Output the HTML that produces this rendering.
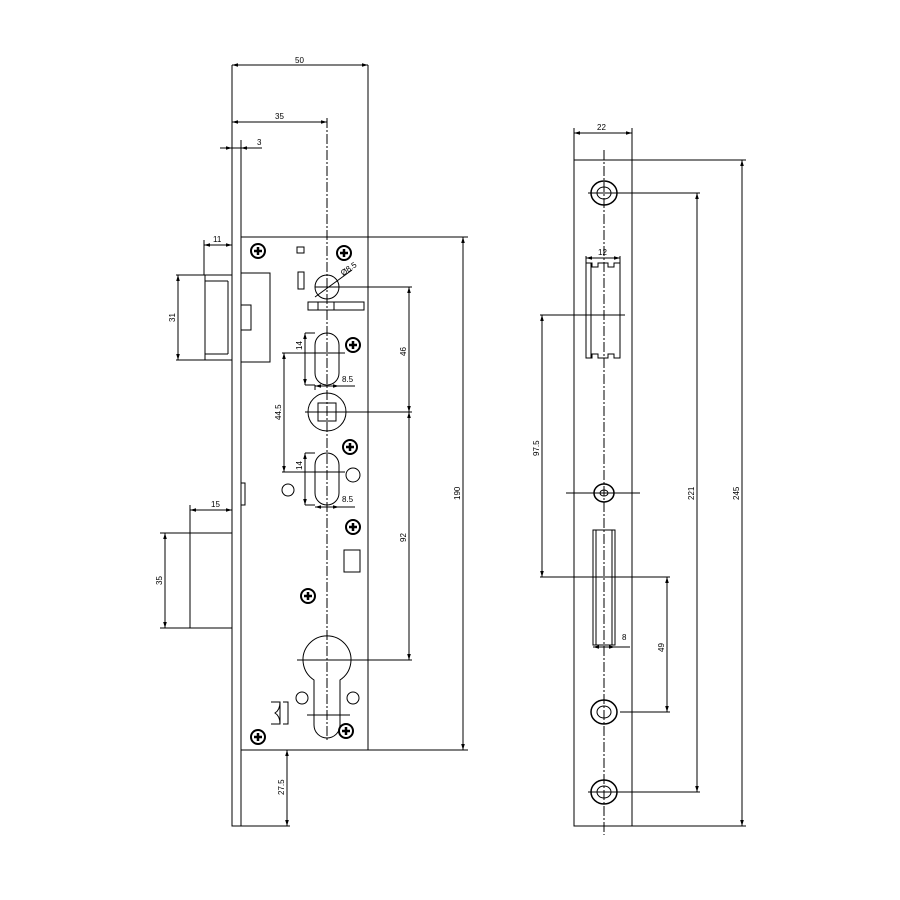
<!DOCTYPE html>
<html><head><style>body{margin:0;background:#fff}svg{display:block}text{font-family:"Liberation Sans",sans-serif;font-size:8px;fill:#000}</style></head>
<body>
<svg width="900" height="900" viewBox="0 0 900 900" xmlns="http://www.w3.org/2000/svg">
<defs>
<marker id="a" viewBox="0 0 10 10" refX="10" refY="5" markerWidth="6" markerHeight="6" orient="auto-start-reverse"><path d="M0,2L10,5L0,8z" fill="#000"/></marker>
<g id="scr"><circle r="7" fill="none" stroke="#000" stroke-width="2"/><path d="M-4,0H4M0,-4V4" stroke="#000" stroke-width="2.5"/></g>
</defs>
<g fill="none" stroke="#000" stroke-width="1">
<!-- faceplate -->
<rect x="232" y="148" width="9" height="678"/>
<!-- case -->
<rect x="241" y="237" width="127" height="513"/>
<line x1="368" y1="65" x2="368" y2="237"/>
<line x1="232" y1="65" x2="232" y2="148"/>
<line x1="368" y1="237" x2="468" y2="237"/><line x1="368" y1="750" x2="468" y2="750"/>
<line x1="327" y1="118" x2="327" y2="740" stroke-dasharray="10,2,2,2"/>
<!-- dims top -->
<line x1="232" y1="65" x2="368" y2="65" marker-start="url(#a)" marker-end="url(#a)"/>
<line x1="232" y1="122" x2="327" y2="122" marker-start="url(#a)" marker-end="url(#a)"/>
<line x1="220" y1="148" x2="232" y2="148" marker-end="url(#a)"/><line x1="262" y1="148" x2="241" y2="148" marker-end="url(#a)"/>
<line x1="241" y1="140" x2="241" y2="160"/>
<!-- latch -->
<rect x="205" y="275" width="27" height="85"/><line x1="176" y1="275" x2="205" y2="275"/><line x1="176" y1="360" x2="205" y2="360"/>
<line x1="205" y1="281" x2="228" y2="281"/><line x1="205" y1="354" x2="228" y2="354"/><line x1="228" y1="281" x2="228" y2="354"/>
<rect x="241" y="273" width="29" height="89"/><rect x="241" y="305" width="10" height="25"/>
<line x1="178" y1="275" x2="178" y2="360" marker-start="url(#a)" marker-end="url(#a)"/>
<line x1="204" y1="240" x2="204" y2="275"/>
<line x1="204" y1="245" x2="232" y2="245" marker-start="url(#a)" marker-end="url(#a)"/>
<!-- deadbolt -->
<rect x="190" y="533" width="42" height="95"/>
<line x1="160" y1="533" x2="190" y2="533"/><line x1="160" y1="628" x2="190" y2="628"/>
<line x1="165" y1="533" x2="165" y2="628" marker-start="url(#a)" marker-end="url(#a)"/>
<line x1="190" y1="505" x2="190" y2="533"/>
<line x1="190" y1="510" x2="232" y2="510" marker-start="url(#a)" marker-end="url(#a)"/>
<path d="M241,483h4v22h-4"/>
<!-- 27.5 -->
<line x1="287" y1="750" x2="287" y2="826" marker-start="url(#a)" marker-end="url(#a)"/>
<line x1="241" y1="826" x2="290" y2="826"/>
<!-- small parts -->
<rect x="297" y="247" width="7" height="6"/><rect x="298" y="272" width="6" height="17"/>
<circle cx="327" cy="287" r="12"/><line x1="315" y1="297" x2="352" y2="270"/>
<rect x="308" y="302" width="56" height="8"/><line x1="318" y1="302" x2="318" y2="310"/><line x1="334" y1="302" x2="334" y2="310"/>
<line x1="315" y1="287" x2="412" y2="287"/>
<rect x="315" y="333" width="24" height="52" rx="12"/>
<rect x="315" y="453" width="24" height="52" rx="12"/>
<circle cx="327" cy="412" r="19"/><rect x="318" y="403" width="18" height="18"/>
<line x1="305" y1="412" x2="412" y2="412"/>
<circle cx="353" cy="475" r="7"/><circle cx="288" cy="490" r="6"/>
<rect x="344" y="550" width="16" height="22"/>
<path d="M314,680 A24,24 0 1 1 340,680 L340,725 A13,13 0 0 1 314,725 Z"/>
<line x1="297" y1="660" x2="412" y2="660"/><line x1="307" y1="715" x2="350" y2="715"/>
<circle cx="302" cy="698" r="6"/><circle cx="353" cy="698" r="6"/>
<path d="M271,702h9v22h-9 M280,702 q0,8 -5,11 q5,3 5,11 M280,702 q-6,0 -6,0"/>
<path d="M283,702h5v22h-5"/>
<!-- left dims -->
<line x1="409" y1="287" x2="409" y2="412" marker-start="url(#a)" marker-end="url(#a)"/>
<line x1="409" y1="412" x2="409" y2="660" marker-start="url(#a)" marker-end="url(#a)"/>
<line x1="463" y1="237" x2="463" y2="750" marker-start="url(#a)" marker-end="url(#a)"/>
<line x1="282" y1="353" x2="345" y2="353"/><line x1="282" y1="472" x2="345" y2="472"/>
<line x1="284" y1="353" x2="284" y2="472" marker-start="url(#a)" marker-end="url(#a)"/>
<line x1="305" y1="333" x2="315" y2="333"/><line x1="305" y1="385" x2="315" y2="385"/>
<line x1="305" y1="333" x2="305" y2="385" marker-start="url(#a)" marker-end="url(#a)"/>
<line x1="305" y1="453" x2="315" y2="453"/><line x1="305" y1="505" x2="315" y2="505"/>
<line x1="305" y1="453" x2="305" y2="505" marker-start="url(#a)" marker-end="url(#a)"/>
<line x1="315" y1="385" x2="315" y2="390"/><line x1="315" y1="386" x2="339" y2="386" marker-start="url(#a)" marker-end="url(#a)"/><line x1="339" y1="386" x2="355" y2="386"/>
<line x1="315" y1="507" x2="339" y2="507" marker-start="url(#a)" marker-end="url(#a)"/><line x1="339" y1="507" x2="355" y2="507"/>
<!-- strike plate -->
<rect x="574" y="160" width="58" height="666"/>
<line x1="604" y1="150" x2="604" y2="835" stroke-dasharray="10,2,2,2"/>
<line x1="632" y1="160" x2="746" y2="160"/><line x1="632" y1="826" x2="746" y2="826"/>
<line x1="574" y1="128" x2="574" y2="160"/><line x1="632" y1="128" x2="632" y2="160"/>
<line x1="574" y1="133" x2="632" y2="133" marker-start="url(#a)" marker-end="url(#a)"/>
<line x1="742" y1="160" x2="742" y2="826" marker-start="url(#a)" marker-end="url(#a)"/>
<line x1="588" y1="193" x2="700" y2="193"/><line x1="588" y1="792" x2="700" y2="792"/>
<line x1="697" y1="193" x2="697" y2="792" marker-start="url(#a)" marker-end="url(#a)"/>
<ellipse cx="604" cy="193" rx="13" ry="12" stroke-width="1.5"/><ellipse cx="604" cy="193" rx="7" ry="6"/>
<ellipse cx="604" cy="712" rx="13" ry="12" stroke-width="1.5"/><ellipse cx="604" cy="712" rx="7" ry="6"/>
<ellipse cx="604" cy="792" rx="13" ry="12" stroke-width="1.5"/><ellipse cx="604" cy="792" rx="7" ry="6"/>
<ellipse cx="604" cy="493" rx="10" ry="9" stroke-width="1.5"/><ellipse cx="604" cy="493" rx="4" ry="3"/>
<line x1="566" y1="493" x2="640" y2="493"/>
<path d="M586,263h6v4h6v-4h10v4h6v-4h6v95h-6v-4h-6v4h-10v-4h-6v4h-6z"/><line x1="591" y1="263" x2="591" y2="358"/>
<line x1="586" y1="256" x2="586" y2="263"/><line x1="620" y1="256" x2="620" y2="263"/>
<line x1="586" y1="258" x2="620" y2="258" marker-start="url(#a)" marker-end="url(#a)"/>
<path d="M593,530h22v115h-22z"/><line x1="596" y1="530" x2="596" y2="645"/><line x1="612" y1="530" x2="612" y2="645"/>
<line x1="593" y1="647" x2="615" y2="647" marker-start="url(#a)" marker-end="url(#a)"/><line x1="615" y1="647" x2="630" y2="647"/>
<line x1="540" y1="315" x2="625" y2="315"/><line x1="540" y1="577" x2="670" y2="577"/>
<line x1="542" y1="315" x2="542" y2="577" marker-start="url(#a)" marker-end="url(#a)"/>
<line x1="620" y1="712" x2="670" y2="712"/>
<line x1="667" y1="577" x2="667" y2="712" marker-start="url(#a)" marker-end="url(#a)"/>
</g>
<use href="#scr" x="258" y="251"/><use href="#scr" x="344" y="253"/><use href="#scr" x="353" y="345"/><use href="#scr" x="350" y="447"/>
<use href="#scr" x="353" y="527"/><use href="#scr" x="308" y="596"/><use href="#scr" x="346" y="731"/><use href="#scr" x="258" y="737"/>
<text x="295" y="63">50</text><text x="275" y="119">35</text><text x="257" y="145">3</text>
<text x="213" y="242">11</text><text x="211" y="507">15</text>
<text x="343" y="276" transform="rotate(-35 343 276)">Ø8.5</text>
<text x="342" y="382">8.5</text><text x="342" y="502">8.5</text>
<text transform="translate(175 322) rotate(-90)">31</text>
<text transform="translate(162 585) rotate(-90)">35</text>
<text transform="translate(302 350) rotate(-90)">14</text>
<text transform="translate(302 470) rotate(-90)">14</text>
<text transform="translate(281 420) rotate(-90)">44.5</text>
<text transform="translate(406 356) rotate(-90)">46</text>
<text transform="translate(406 542) rotate(-90)">92</text>
<text transform="translate(460 500) rotate(-90)">190</text>
<text transform="translate(284 795) rotate(-90)">27.5</text>
<text x="597" y="130">22</text><text x="598" y="255">12</text><text x="622" y="640">8</text>
<text transform="translate(539 456) rotate(-90)">97.5</text>
<text transform="translate(664 652) rotate(-90)">49</text>
<text transform="translate(694 500) rotate(-90)">221</text>
<text transform="translate(739 500) rotate(-90)">245</text>
</svg>
</body></html>
